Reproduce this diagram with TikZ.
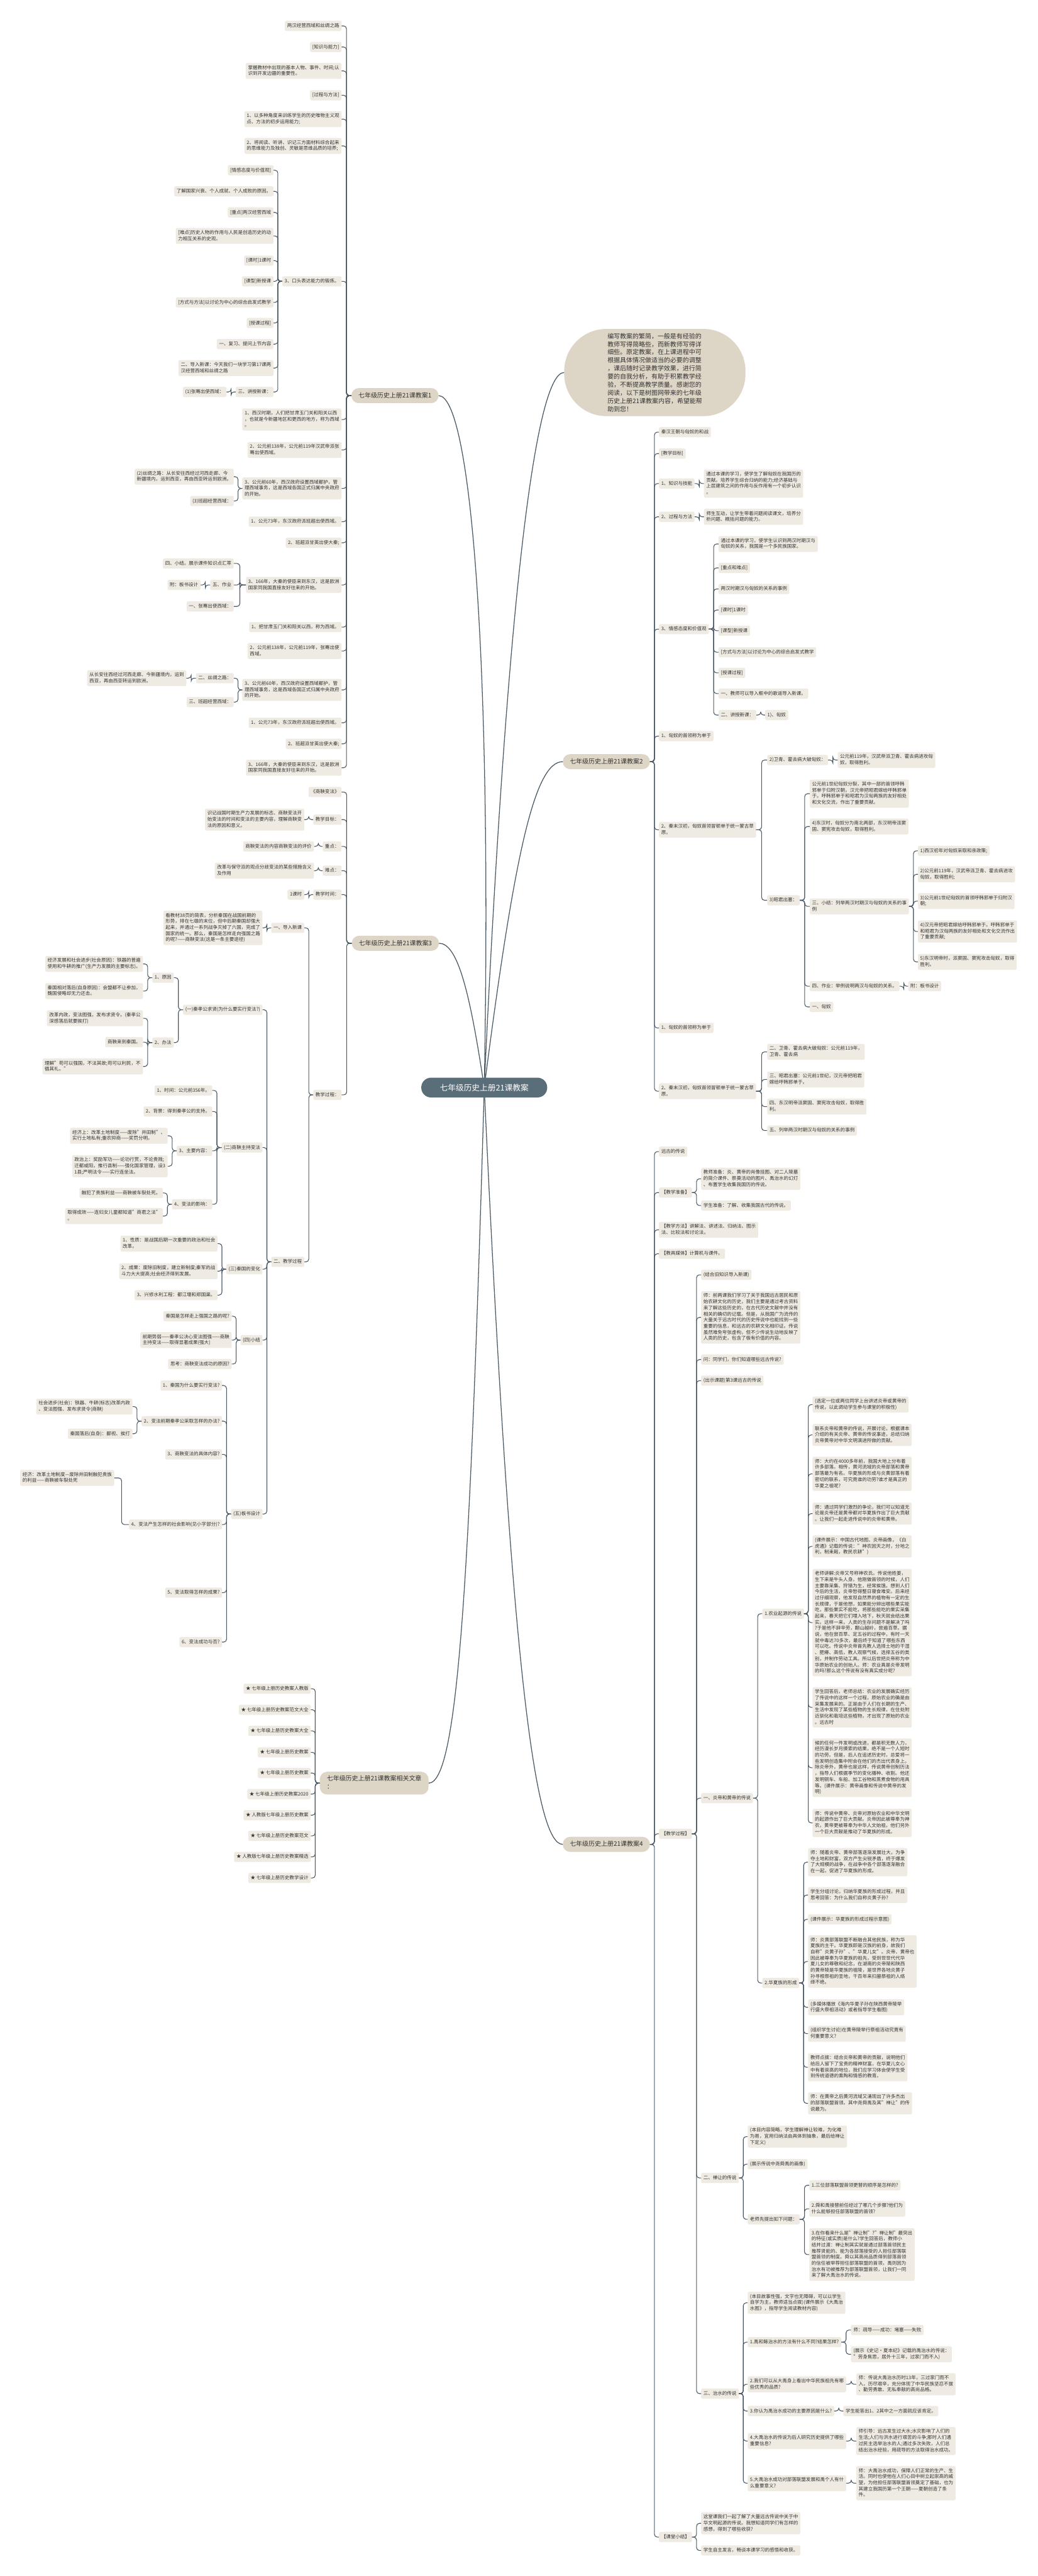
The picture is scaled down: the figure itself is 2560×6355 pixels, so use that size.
\documentclass[tikz,border=0pt]{standalone}
\usepackage{fontspec}
\setmainfont{Noto Sans CJK SC}
\usetikzlibrary{calc}
\definecolor{boxc}{HTML}{EFEBE3}
\definecolor{mainc}{HTML}{DDD5C5}
\definecolor{txtc}{HTML}{333333}
\definecolor{linec}{HTML}{4A5963}
\definecolor{ctrc}{HTML}{5A6E7A}
\tikzset{
 sb/.style={fill=boxc, rounded corners=2.5pt, inner xsep=0.14cm, inner ysep=0.136cm, font=\fontsize{8.3}{10.7}\selectfont, text=txtc, align=left, execute at begin node={\rule[-2.4pt]{0pt}{10pt}}, execute at end node={\rule[-2.4pt]{0pt}{10pt}}},
 mn/.style={fill=mainc, rounded corners=0.45cm, inner xsep=0.43cm, inner ysep=0.234cm, font=\fontsize{11}{14.2}\selectfont, text=txtc, align=left, execute at begin node={\rule[-3pt]{0pt}{13pt}}, execute at end node={\rule[-3pt]{0pt}{13pt}}},
 cn/.style={draw=linec, line width=1.2pt, rounded corners=5pt},
 bc/.style={draw=linec, line width=1.4pt},
}
\newcommand{\Lcon}[2]{\draw[cn] (#1.west) -- ($(#1.west)!0.5!(#1.west -| #2.east)$) |- (#2.east);}
\newcommand{\Rcon}[2]{\draw[cn] (#1.east) -- ($(#1.east)!0.5!(#1.east -| #2.west)$) |- (#2.west);}
\begin{document}
\begin{tikzpicture}[x=0.025cm,y=-0.025cm]
\useasboundingbox (0,0) rectangle (2560,6355);
\fill[white] (0,0) rectangle (2560,6355);
% ---------- main nodes ----------
\node[mn,anchor=west] (L1) at (867,976) {七年级历史上册21课教案1};
\node[mn,anchor=west] (L2) at (868,2327) {七年级历史上册21课教案3};
\node[mn,anchor=west] (L3) at (789,4399) {七年级历史上册21课教案相关文章\\：};
\node[mn,anchor=east] (R1) at (1604,1879) {七年级历史上册21课教案2};
\node[mn,anchor=east] (R2) at (1604,4550) {七年级历史上册21课教案4};
\node[fill=mainc, rounded corners=2.6cm, minimum width=11.18cm, minimum height=5.375cm, font=\fontsize{11}{14.2}\selectfont, text=txtc, align=left] (R0) at (1616,919) {编写教案的繁简，一般是有经验的\\教师写得简略些，而新教师写得详\\细些。原定教案，在上课进程中可\\根据具体情况做适当的必要的调整\\，课后随时记录教学效果，进行简\\要的自我分析，有助于积累教学经\\验，不断提高教学质量。感谢您的\\阅读，以下是树图网带来的七年级\\历史上册21课教案内容，希望能帮\\助到您！};
\coordinate (C0) at (1195,2683);
\draw[bc] (C0) .. controls (1215,1600) and (1160,976) .. (L1.east);
\draw[bc] (C0) .. controls (1250,1500) and (1320,919) .. (R0.west);
\draw[bc] (C0) .. controls (1270,2100) and (1320,1879) .. (R1.west);
\draw[bc] (C0) .. controls (1160,2450) and (1130,2327) .. (L2.east);
\draw[bc] (C0) .. controls (1160,3900) and (1130,4399) .. (L3.east);
\draw[bc] (C0) .. controls (1260,4100) and (1320,4550) .. (R2.west);
\node[fill=ctrc, rounded corners=0.6cm, inner xsep=1.15cm, inner ysep=0.38cm, font=\fontsize{14}{17}\selectfont, text=white] (C) at (C0) {七年级历史上册21课教案};
% ---------- L1 ----------
\begin{scope}[every node/.style={sb,anchor=east}]
\node (a01) at (843,64) {两汉经营西域和丝绸之路};
\node (a02) at (843,116) {[知识与能力]};
\node (a03) at (843,175) {掌握教材中出现的基本人物、事件、时间;认\\识到开发边疆的重要性。};
\node (a04) at (843,235) {[过程与方法]};
\node (a05) at (843,294) {1、以多种角度来训练学生的历史唯物主义观\\点、方法的初步运用能力;};
\node (a06) at (843,360) {2、将阅读、听讲、识记三方面材料综合起来\\的思维能力及独创、灵敏是思维品质的培养;};
\node (a07) at (843,694) {3、口头表达能力的锻炼。};
\node (b01) at (675,420) {[情感态度与价值观]};
\node (b02) at (675,472) {了解国家兴衰、个人成就、个人成败的原因。};
\node (b03) at (675,524) {[重点]两汉经营西域};
\node (b04) at (675,582) {[难点]历史人物的作用与人民是创造历史的动\\力相互关系的史观。};
\node (b05) at (675,643) {[课时]1课时};
\node (b06) at (675,694) {[课型]新授课};
\node (b07) at (675,746) {[方式与方法]以讨论为中心的综合启发式教学};
\node (b08) at (675,797) {[授课过程]};
\node (b09) at (675,849) {一、复习、提问上节内容};
\node (b10) at (675,908) {二、导入新课：今天我们一块学习第17课两\\汉经营西域和丝绸之路};
\node (b11) at (675,967) {三、讲授新课：};
\node (c01) at (559,967) {(1)张骞出使西域：};
\node (a08) at (843,1035) {1、西汉时期，人们把甘肃玉门关和阳关以西\\，也就是今新疆地区和更西的地方，称为西域\\。};
\node (a09) at (843,1110) {2、公元前138年，公元前119年汉武帝派张\\骞出使西域。};
\node (a10) at (843,1205) {3、公元前60年，西汉政府设置西域都护，管\\理西域事务，这是西域各国正式归属中央政府\\的开始。};
\node (b12) at (577,1176) {(2)丝绸之路：从长安往西经过河西走廊、今\\新疆境内，运到西亚，再由西亚转运到欧洲。};
\node (b13) at (577,1236) {(3)班超经营西域：};
\node (a11) at (843,1287) {1、公元73年，东汉政府派班超出使西域。};
\node (a12) at (843,1339) {2、班超派甘英出使大秦;};
\node (a13) at (843,1443) {3、166年，大秦的使臣来到东汉，这是欧洲\\国家同我国直接友好往来的开始。};
\node (b14) at (577,1390) {四、小结。展示课件知识点汇萃};
\node (b15) at (577,1443) {五、作业};
\node (c02) at (495,1443) {附：板书设计};
\node (b16) at (577,1496) {一、张骞出使西域：};
\node (a14) at (843,1547) {1、把甘肃玉门关和阳关以西，称为西域。};
\node (a15) at (843,1606) {2、公元前138年，公元前119年，张骞出使\\西域。};
\node (a16) at (843,1702) {3、公元前60年，西汉政府设置西域都护，管\\理西域事务，这是西域各国正式归属中央政府\\的开始。};
\node (b17) at (577,1673) {二、丝绸之路：};
\node (c03) at (460,1673) {从长安往西经过河西走廊、今新疆境内，运到\\西亚，再由西亚转运到欧洲。};
\node (b18) at (577,1732) {三、班超经营西域：};
\node (a17) at (843,1783) {1、公元73年，东汉政府派班超出使西域。};
\node (a18) at (843,1835) {2、班超派甘英出使大秦;};
\node (a19) at (843,1894) {3、166年，大秦的使臣来到东汉，这是欧洲\\国家同我国直接友好往来的开始。};
% ---------- L2 ----------
\node (d01) at (843,1954) {《商鞅变法》};
\node (d02) at (843,2022) {教学目标：};
\node (e01) at (751,2022) {识记战国时期生产力发展的标志、商鞅变法开\\始变法的时间和变法的主要内容，理解商鞅变\\法的原因和意义。};
\node (d03) at (843,2088) {重点：};
\node (e02) at (775,2088) {商鞅变法的内容商鞅变法的评价};
\node (d04) at (843,2148) {难点：};
\node (e03) at (775,2148) {改革与保守派的观点分歧变法的某些措施含义\\及作用};
\node (d05) at (843,2207) {教学时间：};
\node (e04) at (751,2207) {1课时};
\node (d06) at (843,2701) {教学过程：};
\node (e05) at (751,2289) {一、导入新课};
\node (f01) at (648,2289) {看教材38页的简表，分析秦国在战国前期的\\形势，排在七雄的末位，但中后期秦国却强大\\起来，并通过一系列战争灭掉了六国，完成了\\国家的统一。那么，秦国是怎样走向强国之路\\的呢?——商鞅变法(这是一条主要途径)};
\node (e06) at (751,3113) {二、教学过程};
\node (f02) at (648,2491) {(一)秦孝公求贤(为什么要实行变法?)};
\node (g01) at (429,2412) {1、原因};
\node (h01) at (353,2378) {经济发展和社会进步(社会原因)：铁器的普遍\\使用和牛耕的推广(生产力发展的主要标志)。};
\node (h02) at (353,2445) {秦国相对落后(自身原因)：会盟都不让参加，\\魏国侵略却无力还击。};
\node (g02) at (429,2572) {2、办法};
\node (h03) at (353,2512) {改革内政，变法图强，发布求贤令。(秦孝公\\深感落后就要挨打)};
\node (h04) at (353,2571) {商鞅来到秦国。};
\node (h05) at (353,2631) {理解"苟可以强国，不法其故;苟可以利民，不\\循其礼。"};
\node (f03) at (648,2831) {(二)商鞅主持变法};
\node (g03) at (524,2690) {1、时间：公元前356年。};
\node (g04) at (524,2742) {2、背景：得到秦孝公的支持。};
\node (g05) at (524,2839) {3、主要内容：};
\node (h06) at (414,2802) {经济上：改革土地制度——废除"井田制"、\\实行土地私有;重农抑商——奖罚分明。};
\node (h07) at (414,2877) {政治上：奖励军功——论功行赏，不论贵贱;\\迁都咸阳，推行县制——强化国家管理，设3\\1县;严明法令——实行连坐法。};
\node (g06) at (524,2971) {4、变法的影响：};
\node (h08) at (402,2943) {触犯了贵族利益——商鞅被车裂处死。};
\node (h09) at (402,3000) {取得成效——连妇女儿童都知道"商君之法"\\。};
\node (f04) at (648,3131) {(三)秦国的变化};
\node (g07) at (537,3068) {1、性质：是战国后期一次重要的政治和社会\\改革。};
\node (g08) at (537,3136) {2、成果：废除旧制度，建立新制度;秦军的战\\斗力大大提高;社会经济得到发展。};
\node (g09) at (537,3195) {3、兴修水利工程：都江堰和郑国渠。};
\node (f05) at (648,3306) {(四)小结};
\node (g10) at (572,3247) {秦国是怎样走上强国之路的呢?};
\node (g11) at (572,3306) {前期势弱——秦孝公决心变法图强——商鞅\\主持变法——取得显著成果(强大)};
\node (g12) at (572,3365) {思考：商鞅变法成功的原因?};
\node (f06) at (648,3735) {(五)板书设计};
\node (g13) at (548,3418) {1、秦国为什么要实行变法?};
\node (g14) at (548,3506) {2、变法前期秦孝公采取怎样的办法?};
\node (h10) at (327,3470) {社会进步(社会)：铁器、牛耕(标志)改革内政\\、变法图强、发布求贤令(商鞅)};
\node (h11) at (327,3537) {秦国落后(自身)：鄙视、挨打};
\node (g15) at (548,3588) {3、商鞅变法的具体内容?};
\node (g16) at (548,3761) {4、变法产生怎样的社会影响(见小字部分)?};
\node (h12) at (282,3646) {经济：改革土地制度—废除井田制触犯贵族\\的利益——商鞅被车裂处死};
\node (g17) at (548,3929) {5、变法取得怎样的成果?};
\node (g18) at (548,4051) {6、变法成功与否?};
% ---------- L3 ----------
\node (j01) at (767,4166) {★ 七年级上册历史教案人教版};
\node (j02) at (767,4218) {★ 七年级上册历史教案范文大全};
\node (j03) at (767,4270) {★ 七年级上册历史教案大全};
\node (j04) at (767,4323) {★ 七年级上册历史教案};
\node (j05) at (767,4374) {★ 七年级上册历史教案};
\node (j06) at (767,4426) {★ 七年级上册历史教案2020};
\node (j07) at (767,4478) {★ 人教版七年级上册历史教案};
\node (j08) at (767,4529) {★ 七年级上册历史教案范文};
\node (j09) at (767,4581) {★ 人教版七年级上册历史教案精选};
\node (j10) at (767,4633) {★ 七年级上册历史教学设计};
\end{scope}
% ---------- R1 ----------
\begin{scope}[every node/.style={sb,anchor=west}]
\node (k01) at (1626,1066) {秦汉王朝与匈奴的和战};
\node (k02) at (1626,1119) {[教学目标]};
\node (k03) at (1626,1193) {1、知识与技能};
\node (l01) at (1737,1193) {通过本课的学习，使学生了解匈奴在我国历的\\贡献。培养学生综合归纳的能力;经济基础与\\上层建筑之间的作用与反作用有一个初步认识\\。};
\node (k04) at (1626,1275) {2、过程与方法};
\node (l02) at (1737,1275) {师生互动，让学生带着问题阅读课文，培养分\\析问题、概括问题的能力。};
\node (k05) at (1626,1552) {3、情感态度和价值观};
\node (l03) at (1773,1342) {通过本课的学习，使学生认识到两汉时期汉与\\匈奴的关系，我国是一个多民族国家。};
\node (l04) at (1773,1401) {[重点和难点]};
\node (l05) at (1773,1453) {两汉时期汉与匈奴的关系的事例};
\node (l06) at (1773,1505) {[课时]1课时};
\node (l07) at (1773,1556) {[课型]新授课};
\node (l08) at (1773,1609) {[方式与方法]以讨论为中心的综合启发式教学};
\node (l09) at (1773,1660) {[授课过程]};
\node (l10) at (1773,1711) {一、教师可以导入框中的歌谣导入新课。};
\node (l11) at (1773,1764) {二、讲授新课：};
\node (m01) at (1888,1764) {1)、匈奴};
\node (k06) at (1626,1816) {1、匈奴的首领称为单于};
\node (k07) at (1626,2047) {2、秦末汉初，匈奴首领冒顿单于统一蒙古草\\原。};
\node (l12) at (1893,1875) {2)卫青、霍去病大破匈奴：};
\node (m02) at (2067,1875) {公元前119年，汉武帝派卫青、霍去病进攻匈\\奴，取得胜利。};
\node (l13) at (1893,2221) {3)昭君出塞：};
\node (m03) at (1998,1958) {公元前1世纪匈奴分裂，其中一部的首领呼韩\\邪单于归附汉朝，汉元帝把昭君嫁给呼韩邪单\\于。呼韩邪单于和昭君为汉匈两族的友好相处\\和文化交流，作出了重要贡献。};
\node (m04) at (1998,2039) {4)东汉时，匈奴分为南北两部，东汉明帝派窦\\固、窦宪攻击匈奴，取得胜利。};
\node (m05) at (1998,2236) {三、小结：列举两汉时期汉与匈奴的关系的事\\例};
\node (n01) at (2265,2099) {1)西汉初年对匈奴采取和亲政策;};
\node (n02) at (2265,2157) {2)公元前119年，汉武帝派卫青、霍去病进攻\\匈奴，取得胜利;};
\node (n03) at (2265,2223) {3)公元前1世纪匈奴的首领呼韩邪单于归附汉\\朝;};
\node (n04) at (2265,2298) {4)汉元帝把昭君嫁给呼韩邪单于。呼韩邪单于\\和昭君为汉匈两族的友好相处和文化交流作出\\了重要贡献;};
\node (n05) at (2265,2373) {5)东汉明帝时，派窦固、窦宪攻击匈奴，取得\\胜利。};
\node (m06) at (1998,2433) {四、作业：举例说明两汉与匈奴的关系。};
\node (n06) at (2241,2433) {附：板书设计};
\node (m07) at (1998,2484) {一、匈奴};
\node (k08) at (1626,2536) {1、匈奴的首领称为单于};
\node (k09) at (1626,2692) {2、秦末汉初，匈奴首领冒顿单于统一蒙古草\\原。};
\node (l14) at (1893,2595) {二、卫青、霍去病大破匈奴：公元前119年，\\卫青、霍去病};
\node (l15) at (1893,2663) {三、昭君出塞：公元前1世纪，汉元帝把昭君\\嫁给呼韩邪单于。};
\node (l16) at (1893,2730) {四、东汉明帝派窦固、窦宪攻击匈奴，取得胜\\利。};
\node (l17) at (1893,2789) {五、列举两汉时期汉与匈奴的关系的事例};
% ---------- R2 ----------
\node (p01) at (1626,2841) {远古的传说};
\node (p02) at (1626,2942) {【教学准备】};
\node (q01) at (1730,2908) {教师准备：炎、黄帝的肖像挂图、对二人陵墓\\的简介课件、祭奠活动的图片、禹治水的幻灯\\、布置学生收集我国历的传说。};
\node (q02) at (1730,2974) {学生准备：了解、收集我国古代的传说。};
\node (p03) at (1626,3034) {【教学方法】讲解法、讲述法、归纳法、图示\\法、比较法和讨论法。};
\node (p04) at (1626,3093) {【教具媒体】计算机与课件。};
\node (p05) at (1626,4524) {【教学过程】};
\node (q03) at (1730,3145) {(结合旧知识导入新课)};
\node (q04) at (1730,3250) {师：前两课我们学习了关于我国远古居民和原\\始农耕文化的历史，我们主要是通过考古资料\\来了解这些历史的，在古代历史文献中并没有\\相关的确切的记载。但是，从我国广为流传的\\大量关于远古时代的历史传说中也能找到一些\\重要的信息，和远古的农耕文化相印证。传说\\虽然难免夸张虚构，但不少传说生动地反映了\\人类的历史，包含了极有价值的内容。};
\node (q05) at (1730,3354) {问：同学们，你们知道哪些远古传说?};
\node (q06) at (1730,3406) {(出示课题)第3课远古的传说};
\node (q07) at (1730,4436) {一、炎帝和黄帝的传说};
\node (r01) at (1881,3981) {1.农业起源的传说};
\node (s01) at (2005,3465) {(选定一位或两位同学上台讲述炎帝或黄帝的\\传说，以此调动学生参与课堂的积极性)};
\node (s02) at (2005,3540) {联系炎帝和黄帝的传说，开展讨论，根据课本\\介绍的有关炎帝、黄帝的传说事迹，总结归纳\\炎帝黄帝对中华文明演进所做的贡献。};
\node (s03) at (2005,3636) {师：大约在4000多年前，我国大地上分布着\\许多部落。相传，黄河流域的炎帝部落和黄帝\\部落最为有名。华夏族的形成与炎黄部落有着\\密切的联系，可究竟谁的功劳?谁才是真正的\\华夏之祖呢?};
\node (s04) at (2005,3734) {师：通过同学们激烈的争论，我们可以知道无\\论是炎帝还是黄帝都对华夏族作出了巨大贡献\\。让我们一起走进传说中的炎帝和黄帝。};
\node (s05) at (2005,3815) {(课件展示：中国古代地图、炎帝画像，《白\\虎通》记载的传说："神农因天之时，分地之\\利，制耒耜，教民农耕")};
\node (s06) at (2005,4003) {老师讲解:炎帝又号称神农氏。传说他姓姜，\\生下来是牛头人身。他刚做首领的时候，人们\\主要靠采集、狩猎为生，经常挨饿。想到人们\\今后的生活，炎帝愁得整日寝食难安。后来经\\过仔细观察，他发现自然界的植物有一定的生\\长规律，于是他想，如果能分辨出哪些果实能\\吃，那些果实不能吃，将那些能吃的果实采集\\起来，春天把它们埋入地下，秋天就会结出果\\实。这样一来，人类的生存问题不是解决了吗\\?于是他不辞辛劳，翻山越岭，尝遍百草。据\\说，他在尝百草、定五谷的过程中，有时一天\\就中毒达70多次，最后终于知道了哪些东西\\可以吃。传说中炎帝首先教人选择土地的干湿\\、肥瘠、高低，教人观察气候，选择五谷的类\\别，并制作劳动工具。所以后世把炎帝称为中\\华原始农业的创始人。师：农业真是炎帝发明\\的吗?那么这个传说有没有真实成分呢?};
\node (s07) at (2005,4212) {学生回答后，老师总结：农业的发展确实经历\\了传说中的这样一个过程，原始农业的确是由\\采集发展来的。正是由于人们在长期的生产、\\生活中发现了某些植物的生长规律，在住处附\\近驯化和栽培这些植物，才出现了原始的农业\\。远古时};
\node (s08) at (2005,4361) {候的任何一件发明或改进，都是积无数人力，\\经历漫长岁月摸索的结果，绝不是一个人短时\\的功劳。但是，后人在追述历史时，总爱将一\\些发明创造集中附会在他们的杰出代表身上。\\除炎帝外，黄帝也是这样，传说黄帝创制历法\\，指导人们根据季节的变化播种、收割。他还\\发明铜车、车船、加工谷物和蒸煮食物的用具\\等。(课件展示：黄帝画像和传说中黄帝的发\\明)};
\node (s09) at (2005,4497) {师：传说中黄帝、炎帝对原始农业和中华文明\\的起源作出了巨大贡献。炎帝因此被尊奉为神\\农，黄帝更被尊奉为中华人文始祖，他们另外\\一个巨大贡献是推动了华夏族的形成。};
\node (r02) at (1881,4892) {2.华夏族的形成};
\node (s10) at (1994,4594) {师：随着炎帝、黄帝部落逐渐发展壮大，为争\\夺土地和财富，双方产生尖锐矛盾，终于爆发\\了大规模的战争，在战争中各个部落逐渐融合\\在一起，促进了华夏族的形成。};
\node (s11) at (1994,4675) {学生分组讨论，归纳华夏族的形成过程，并且\\思考回答：为什么我们自称炎黄子孙?};
\node (s12) at (1994,4735) {(课件展示：华夏族的形成过程示意图)};
\node (s13) at (1994,4839) {师：炎黄部落联盟不断融合其他民族，称为华\\夏族的主干。华夏族即是汉族的前身，故我们\\自称"炎黄子孙"、"华夏儿女"。炎帝、黄帝也\\因此被尊奉为华夏族的祖先，受到世世代代华\\夏儿女的尊敬和纪念，在湖南的炎帝陵和陕西\\的黄帝陵是华夏族的祖陵，是世界各地炎黄子\\孙寻根祭祖的圣地，千百年来扫墓祭祖的人络\\绎不绝。};
\node (s14) at (1994,4952) {(多媒体播放《海内华夏子孙在陕西黄帝陵举\\行盛大祭祖活动》或者指导学生看图)};
\node (s15) at (1994,5017) {(组织学生讨论)在黄帝陵举行祭祖活动究竟有\\何重要意义?};
\node (s16) at (1994,5100) {教师点拨：结合炎帝和黄帝的贡献，说明他们\\给后人留下了宝贵的精神财富，在华夏儿女心\\中有着崇高的地位，我们应学习体会使学生受\\到传统道德的熏陶和情感的教育。};
\node (s17) at (1994,5189) {师：在黄帝之后黄河流域又涌现出了许多杰出\\的部落联盟首领。其中尧舜禹及其"禅让"的传\\说最为。};
\node (q08) at (1730,5373) {二、禅让的传说};
\node (r03) at (1845,5271) {(本目内容简略，学生理解禅让较难，为化难\\为易，宜用归纳法由具体到抽象，最后给禅让\\下定义)};
\node (r04) at (1845,5339) {(展示传说中尧舜禹的画像)};
\node (r05) at (1845,5475) {老师先提出如下问题：};
\node (s18) at (1997,5391) {1.三位部落联盟首领更替的顺序是怎样的?};
\node (s19) at (1997,5449) {2.舜和禹接替前任经过了哪几个步骤?他们为\\什么能够担任部落联盟的首领?};
\node (s20) at (1997,5562) {3.在你看来什么是"禅让制"?"禅让制"最突出\\的特征(或实质)是什么?学生回答后，教师小\\结并过渡：禅让制其实就是通过部落首领民主\\推荐贤能的、能为各部落接受的人担任部落联\\盟首领的制度。舜以其高尚品质得到部落首领\\的信任被举荐担任部落联盟的首领，禹则因为\\治水有功被推荐为部落联盟首领，让我们一同\\来了解大禹治水的传说。};
\node (q09) at (1730,5905) {三、治水的传说};
\node (r06) at (1845,5681) {(本目故事性强，文字也无障碍，可以以学生\\自学为主，教师适当点拨)(课件展示《大禹治\\水图》，指导学生阅读教材内容)};
\node (r07) at (1845,5778) {1.禹和鲧治水的方法有什么不同?结果怎样?};
\node (s21) at (2100,5748) {师：疏导——成功：堵塞——失败};
\node (s22) at (2100,5808) {(展示《史记•夏本纪》记载的禹治水的传说：\\"劳身焦思，居外十三年，过家门而不入)};
\node (r08) at (1845,5882) {2.我们可以从大禹身上看出中华民族祖先有哪\\些优秀的品质?};
\node (s23) at (2113,5882) {师：传说大禹治水历时13年，三过家门而不\\入，历尽艰辛，充分体现了中华民族坚忍不拔\\、勤劳勇敢、无私奉献的高尚品格。};
\node (r09) at (1845,5948) {3.你认为禹治水成功的主要原因是什么?};
\node (s24) at (2081,5948) {学生能答出1、2其中之一方面就应该肯定。};
\node (r10) at (1845,6022) {4.大禹治水的传说为后人研究历史提供了哪些\\重要信息?};
\node (s25) at (2113,6022) {师引导：远古发生过大水;水灾影响了人们的\\生活;人们与洪水进行艰苦的斗争;那时人们通\\过民主选举治水的人;通过多次失败，人们总\\结出治水经验，用疏导的方法取得治水成功。};
\node (r11) at (1845,6126) {5.大禹治水成功对部落联盟发展和禹个人有什\\么重要意义?};
\node (s26) at (2113,6126) {师：大禹治水成功，保障人们正常的生产、生\\活。同时也使他在人们心目中树立起崇高的威\\望，为他担任部落联盟首领奠定了基础，也为\\其建立我国历第一个王朝——夏朝创造了条\\件。};
\node (p06) at (1626,6259) {【课堂小结】};
\node (q10) at (1730,6225) {这堂课我们一起了解了大量远古传说中关于中\\华文明起源的传说。我想知道同学们有怎样的\\感想，得到了哪些收获?};
\node (q11) at (1730,6292) {学生自主发言，畅谈本课学习的感悟和收获。};
\end{scope}
% ---------- connectors left ----------
\foreach \c in {a01,a02,a03,a04,a05,a06,a07,a08,a09,a10,a11,a12,a13,a14,a15,a16,a17,a18,a19} {\Lcon{L1}{\c}}
\foreach \c in {b01,b02,b03,b04,b05,b06,b07,b08,b09,b10,b11} {\Lcon{a07}{\c}}
\Lcon{b11}{c01}
\Lcon{a10}{b12}\Lcon{a10}{b13}
\Lcon{a13}{b14}\Lcon{a13}{b15}\Lcon{a13}{b16}\Lcon{b15}{c02}
\Lcon{a16}{b17}\Lcon{a16}{b18}\Lcon{b17}{c03}
\foreach \c in {d01,d02,d03,d04,d05,d06} {\Lcon{L2}{\c}}
\Lcon{d02}{e01}\Lcon{d03}{e02}\Lcon{d04}{e03}\Lcon{d05}{e04}
\Lcon{d06}{e05}\Lcon{d06}{e06}\Lcon{e05}{f01}
\foreach \c in {f02,f03,f04,f05,f06} {\Lcon{e06}{\c}}
\Lcon{f02}{g01}\Lcon{f02}{g02}
\Lcon{g01}{h01}\Lcon{g01}{h02}
\Lcon{g02}{h03}\Lcon{g02}{h04}\Lcon{g02}{h05}
\foreach \c in {g03,g04,g05,g06} {\Lcon{f03}{\c}}
\Lcon{g05}{h06}\Lcon{g05}{h07}\Lcon{g06}{h08}\Lcon{g06}{h09}
\foreach \c in {g07,g08,g09} {\Lcon{f04}{\c}}
\foreach \c in {g10,g11,g12} {\Lcon{f05}{\c}}
\foreach \c in {g13,g14,g15,g16,g17,g18} {\Lcon{f06}{\c}}
\Lcon{g14}{h10}\Lcon{g14}{h11}\Lcon{g16}{h12}
\foreach \c in {j01,j02,j03,j04,j05,j06,j07,j08,j09,j10} {\Lcon{L3}{\c}}
% ---------- connectors right ----------
\foreach \c in {k01,k02,k03,k04,k05,k06,k07,k08,k09} {\Rcon{R1}{\c}}
\Rcon{k03}{l01}\Rcon{k04}{l02}
\foreach \c in {l03,l04,l05,l06,l07,l08,l09,l10,l11} {\Rcon{k05}{\c}}
\Rcon{l11}{m01}
\Rcon{k07}{l12}\Rcon{k07}{l13}\Rcon{l12}{m02}
\foreach \c in {m03,m04,m05,m06,m07} {\Rcon{l13}{\c}}
\foreach \c in {n01,n02,n03,n04,n05} {\Rcon{m05}{\c}}
\Rcon{m06}{n06}
\foreach \c in {l14,l15,l16,l17} {\Rcon{k09}{\c}}
\foreach \c in {p01,p02,p03,p04,p05,p06} {\Rcon{R2}{\c}}
\Rcon{p02}{q01}\Rcon{p02}{q02}
\foreach \c in {q03,q04,q05,q06,q07,q08,q09} {\Rcon{p05}{\c}}
\Rcon{q07}{r01}\Rcon{q07}{r02}
\foreach \c in {s01,s02,s03,s04,s05,s06,s07,s08,s09} {\Rcon{r01}{\c}}
\foreach \c in {s10,s11,s12,s13,s14,s15,s16,s17} {\Rcon{r02}{\c}}
\Rcon{q08}{r03}\Rcon{q08}{r04}\Rcon{q08}{r05}
\Rcon{r05}{s18}\Rcon{r05}{s19}\Rcon{r05}{s20}
\foreach \c in {r06,r07,r08,r09,r10,r11} {\Rcon{q09}{\c}}
\Rcon{r07}{s21}\Rcon{r07}{s22}\Rcon{r08}{s23}\Rcon{r09}{s24}\Rcon{r10}{s25}\Rcon{r11}{s26}
\Rcon{p06}{q10}\Rcon{p06}{q11}
\end{tikzpicture}
\end{document}
